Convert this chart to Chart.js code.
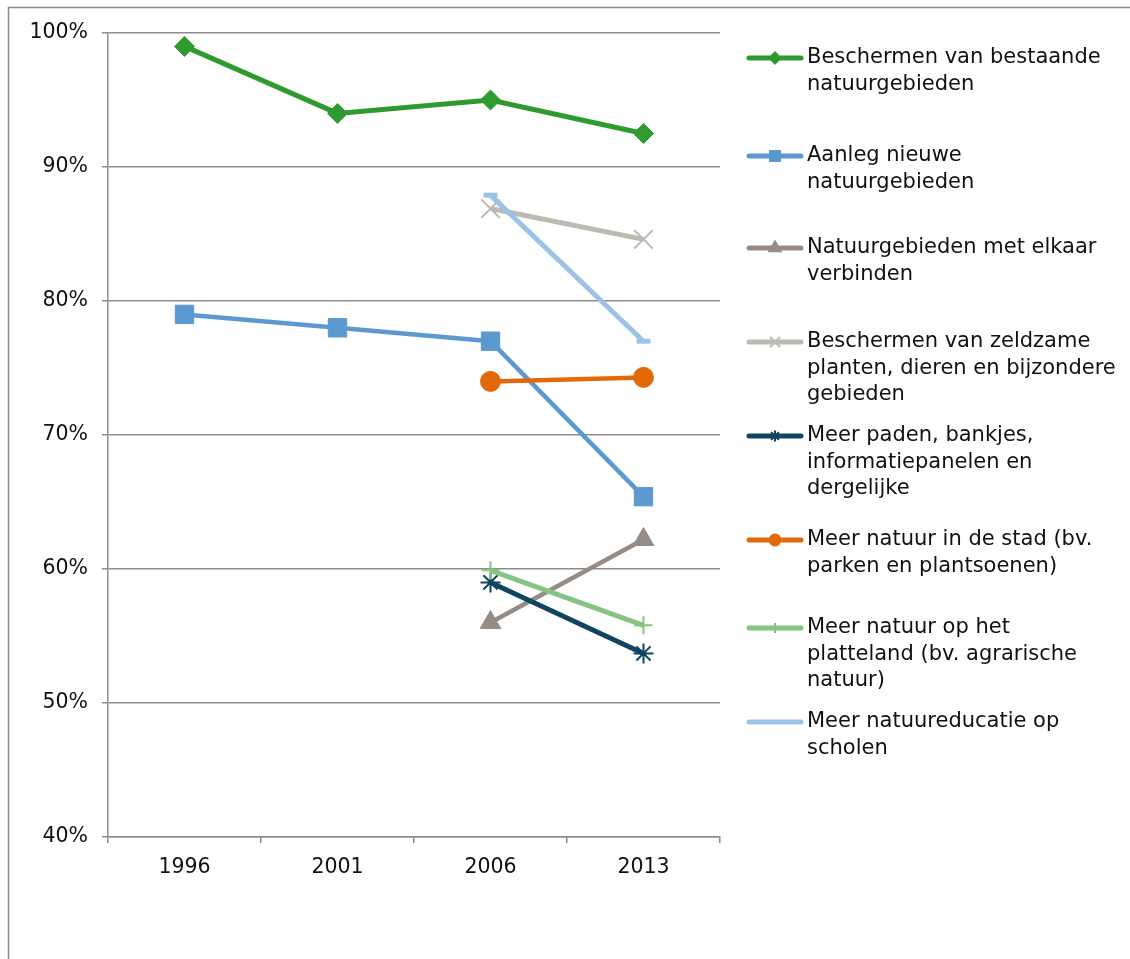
<!DOCTYPE html>
<html lang="nl">
<head>
  <meta charset="UTF-8">
  <title>Natuurbeleid prioriteiten</title>
  <script src="https://cdn.jsdelivr.net/npm/chart.js"></script>
  <style>
    html, body { margin: 0; padding: 0; background: #fff; }
    #wrap { position: relative; width: 1130px; height: 959px; }
  </style>
</head>
<body>
  <div id="wrap"><canvas id="grafiek" width="1130" height="959"></canvas></div>

  <script>
    // jaren en tick labels
    var jaren = ['1996', '2001', '2006', '2013'];
    var yTicks = [40, 50, 60, 70, 80, 90, 100];

    // namen van de reeksen, zoals ze in de legenda afbreken
    var reeksNamen = [
      ['Beschermen van bestaande', 'natuurgebieden'],
      ['Aanleg nieuwe', 'natuurgebieden'],
      ['Natuurgebieden met elkaar', 'verbinden'],
      ['Beschermen van zeldzame', 'planten, dieren en bijzondere', 'gebieden'],
      ['Meer paden, bankjes,', 'informatiepanelen en', 'dergelijke'],
      ['Meer natuur in de stad (bv.', 'parken en plantsoenen)'],
      ['Meer natuur op het', 'platteland (bv. agrarische', 'natuur)'],
      ['Meer natuureducatie op', 'scholen']
    ];

    // waarden in procenten (null = niet gevraagd)
    var bestaand    = [99, 94, 95, 92.5];
    var nieuw       = [79, 78, 77, 65.4];
    var verbinden   = [null, null, 56, 62.2];
    var zeldzaam    = [null, null, 86.9, 84.6];
    var paden       = [null, null, 59, 53.7];
    var stad        = [null, null, 74, 74.3];
    var platteland  = [null, null, 59.9, 55.8];
    var educatie    = [null, null, 87.9, 77];

    var reeksen = [bestaand, nieuw, verbinden, zeldzaam, paden, stad, platteland, educatie];
    var kleuren = ['#2f9b2f', '#5b99cf', '#958c86', '#bdbab4', '#0f4561', '#e2690a', '#86c484', '#9cc3e7'];
    var vormen  = ['rectRot', 'rect', 'triangle', 'crossRot', 'star', 'circle', 'cross', 'line'];
    var stralen = [10, 13, 12, 13, 10, 10, 9, 7];
    var dikte   = [5, 4.5, 4.5, 5, 5, 4.5, 5, 5];

    var grijs = '#8c8c8c';
    var letter = 'DejaVu Sans, Verdana, sans-serif';

    var datasets = [];
    for (var i = 0; i < reeksen.length; i++) {
      var open = (vormen[i] === 'crossRot' || vormen[i] === 'star' || vormen[i] === 'cross' || vormen[i] === 'line');
      datasets.push({
        label: reeksNamen[i].join(' '),
        data: reeksen[i],
        borderColor: kleuren[i],
        backgroundColor: kleuren[i],
        borderWidth: dikte[i],
        pointStyle: vormen[i],
        pointRadius: stralen[i],
        pointBorderWidth: vormen[i] === 'line' ? 5 : (open ? 2 : 1),
        pointBackgroundColor: kleuren[i],
        pointBorderColor: kleuren[i],
        tension: 0,
        order: reeksen.length - i
      });
    }

    // kader om de figuur en legenda rechts
    var kaderEnLegenda = {
      id: 'kaderEnLegenda',
      beforeDraw: function (chart) {
        var ctx = chart.ctx;
        ctx.save();
        ctx.strokeStyle = '#8a8a8a';
        ctx.lineWidth = 1.5;
        ctx.beginPath();
        ctx.moveTo(8.5, 1200);
        ctx.lineTo(8.5, 7.5);
        ctx.lineTo(1200, 7.5);
        ctx.stroke();
        ctx.restore();
      },
      afterDraw: function (chart) {
        var ctx = chart.ctx;
        var posY = [58, 156, 248, 342, 436, 540, 628, 722];
        ctx.save();
        for (var i = 0; i < chart.data.datasets.length; i++) {
          var ds = chart.data.datasets[i];
          var y = posY[i];
          ctx.strokeStyle = ds.borderColor;
          ctx.lineWidth = 5;
          ctx.lineCap = 'round';
          ctx.beginPath();
          ctx.moveTo(749, y);
          ctx.lineTo(801, y);
          ctx.stroke();
          ctx.lineCap = 'butt';
          ctx.fillStyle = ds.borderColor;
          ctx.lineWidth = 2;
          if (ds.pointStyle !== 'line') {
            Chart.helpers.drawPoint(ctx, {
              pointStyle: ds.pointStyle,
              radius: ds.pointRadius * 0.55,
              rotation: 0,
              borderWidth: 2
            }, 775, y);
          }
          ctx.fillStyle = '#111';
          ctx.font = '21px ' + letter;
          ctx.textBaseline = 'middle';
          ctx.textAlign = 'left';
          for (var r = 0; r < reeksNamen[i].length; r++) {
            ctx.fillText(reeksNamen[i][r], 807, y + r * 26.5);
          }
        }
        ctx.restore();
      }
    };

    new Chart(document.getElementById('grafiek'), {
      type: 'line',
      data: { labels: jaren, datasets: datasets },
      options: {
        responsive: false,
        animation: false,
        layout: { padding: { top: 33, right: 410, left: 0, bottom: 0 } },
        plugins: {
          legend: { display: false },
          tooltip: { enabled: false }
        },
        scales: {
          x: {
            offset: true,
            afterFit: function (s) { s.height = 122; },
            grid: {
              offset: true,
              drawOnChartArea: false,
              drawTicks: true,
              tickLength: 6,
              color: grijs,
              lineWidth: 1.5
            },
            border: { color: grijs, width: 1.5 },
            ticks: {
              color: '#111',
              padding: 12,
              font: { family: letter, size: 20.5 }
            }
          },
          y: {
            min: yTicks[0],
            max: yTicks[yTicks.length - 1],
            afterFit: function (s) { s.width = 108; },
            afterBuildTicks: function (s) {
              s.ticks = yTicks.map(function (v) { return { value: v }; });
            },
            grid: {
              color: grijs,
              lineWidth: 1.5,
              drawTicks: true,
              tickLength: 6
            },
            border: { color: grijs, width: 1.5 },
            ticks: {
              color: '#111',
              padding: 14,
              font: { family: letter, size: 20.5 },
              callback: function (v) { return v + '%'; }
            }
          }
        }
      },
      plugins: [kaderEnLegenda]
    });
  </script>
</body>
</html>
